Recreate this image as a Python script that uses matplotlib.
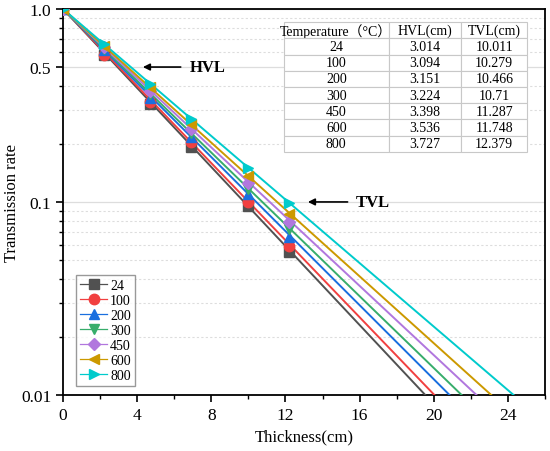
import numpy as np
import matplotlib
matplotlib.use("Agg")
import matplotlib.pyplot as plt
from matplotlib.lines import Line2D
from matplotlib.ticker import FixedLocator, NullFormatter, MultipleLocator

# ---- data ----
temperatures = ["24", "100", "200", "300", "450", "600", "800"]
thickness = [0, 2.2, 4.7, 6.9, 10.0, 12.2]
t_24 = [1.0, 0.575, 0.320, 0.192, 0.095, 0.055]
t_100 = [1.0, 0.578, 0.330, 0.205, 0.100, 0.059]
t_200 = [1.0, 0.610, 0.345, 0.218, 0.110, 0.066]
t_300 = [1.0, 0.622, 0.362, 0.228, 0.117, 0.072]
t_450 = [1.0, 0.633, 0.377, 0.240, 0.126, 0.079]
t_600 = [1.0, 0.645, 0.392, 0.253, 0.136, 0.087]
t_800 = [1.0, 0.659, 0.408, 0.270, 0.150, 0.099]
series = [t_24, t_100, t_200, t_300, t_450, t_600, t_800]
mu_fit = [0.2357, 0.2299, 0.2209, 0.2142, 0.2065, 0.1994, 0.1895]

table_header = ["Temperature（°C）", "HVL(cm)", "TVL(cm)"]
hvl = ["3.014", "3.094", "3.151", "3.224", "3.398", "3.536", "3.727"]
tvl = ["10.011", "10.279", "10.466", "10.71", "11.287", "11.748", "12.379"]

colors = ["#515151", "#F14040", "#1A6FDF", "#37AD6B", "#B177DE", "#CC9900", "#00CBCC"]
markers = ["s", "o", "^", "v", "D", "<", ">"]
msizes = [7, 7.5, 7.5, 7.5, 6, 7.5, 7.5]

serif = ["Liberation Serif", "Noto Sans CJK SC", "DejaVu Sans"]
plt.rcParams["font.family"] = serif

fig = plt.figure(figsize=(5.5, 4.52), dpi=100)
ax = fig.add_axes([0.1145, 0.124, 0.8765, 0.854])

handles = []
for vals, mu, c, m, ms, lab in zip(series, mu_fit, colors, markers, msizes, temperatures):
    xe = np.log(100) / mu
    xl = np.linspace(0, xe, 100)
    ax.plot(xl, np.exp(-mu * xl), color=c, lw=1.4, zorder=3)
    ax.plot(thickness, vals, linestyle="none", marker=m, ms=ms, color=c,
            markeredgecolor=c, zorder=4)
    handles.append(Line2D([], [], color=c, lw=0.9, marker=m, ms=ms, markeredgecolor=c, label=lab))

ax.set_yscale("log")
ax.set_xlim(0, 26)
ax.set_ylim(0.01, 1.0)
ax.xaxis.set_major_locator(MultipleLocator(4))
ax.xaxis.set_minor_locator(MultipleLocator(2))
ax.yaxis.set_major_locator(FixedLocator([0.01, 0.1, 0.5, 1.0]))
ax.set_yticklabels(["0.01", "0.1", "0.5", "1.0"])
minor = [k * 0.01 for k in range(2, 10)] + [k * 0.1 for k in range(2, 10) if k != 5]
ax.yaxis.set_minor_locator(FixedLocator(minor))
ax.yaxis.set_minor_formatter(NullFormatter())

ax.tick_params(axis="both", which="major", direction="out", length=5, width=1.2,
               labelsize=12.5, top=False, right=False)
ax.tick_params(axis="both", which="minor", direction="out", length=3, width=1.0,
               top=False, right=False)
for s in ax.spines.values():
    s.set_linewidth(1.3)

ax.grid(True, which="major", axis="y", color="#dddddd", lw=0.9, ls="-", zorder=0)
ax.grid(True, which="minor", axis="y", color="#dddddd", lw=0.8, ls=(0, (2, 2)), zorder=0)

ax.set_xlabel("Thickness(cm)", fontsize=12, labelpad=4)
ax.set_ylabel("Transmission rate", fontsize=12, labelpad=1)

leg = ax.legend(handles=handles, loc="lower left", bbox_to_anchor=(0.026, 0.022),
                fontsize=10, frameon=True, fancybox=False, edgecolor="#808080",
                handlelength=2.0, handletextpad=0.2, labelspacing=0.15, borderpad=0.3,
                borderaxespad=0)
leg.get_frame().set_linewidth(1.0)

# annotations
ax.annotate("", xy=(4.16, 0.5), xytext=(6.5, 0.5),
            arrowprops=dict(arrowstyle="-|>", color="black", lw=1.2, mutation_scale=10))
ax.text(6.85, 0.5, "HVL", fontsize=12, fontweight="bold", va="center", ha="left")
ax.annotate("", xy=(13.06, 0.1), xytext=(15.5, 0.1),
            arrowprops=dict(arrowstyle="-|>", color="black", lw=1.2, mutation_scale=10))
ax.text(15.8, 0.1, "TVL", fontsize=12, fontweight="bold", va="center", ha="left")

# table
cell_text = [[t, h, v] for t, h, v in zip(temperatures, hvl, tvl)]
tb = ax.table(cellText=cell_text, colLabels=table_header, cellLoc="center",
              bbox=[0.4585, 0.6295, 0.5042, 0.3365], colWidths=[0.43, 0.30, 0.27])
tb.auto_set_font_size(False)
for (r, c), cell in tb.get_celld().items():
    cell.set_edgecolor("#c8c8c8")
    cell.set_linewidth(0.8)
    cell.set_facecolor("white")
    cell.get_text().set_fontsize(10)
    cell.get_text().set_family(serif)
tb.set_zorder(5)

fig.savefig("out.png", dpi=100)
